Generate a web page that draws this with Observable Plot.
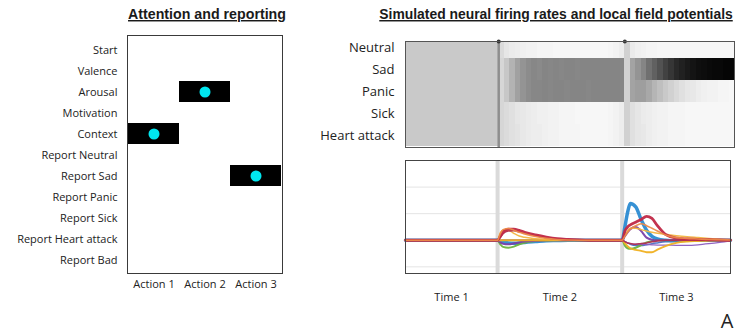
<!DOCTYPE html>
<html><head><meta charset="utf-8">
<script src="https://cdn.jsdelivr.net/npm/d3@7"></script>
<script src="https://cdn.jsdelivr.net/npm/@observablehq/plot@0.6"></script>
<style>
body{margin:0;background:#fff;}
#root{position:relative;width:740px;height:333px;overflow:hidden;background:#fff;}
#root > svg, #root > div{position:absolute;}
</style></head><body><div id="root"></div>
<script>
// ---------- Left panel: attention and reporting ----------
const actions = ["Action 1", "Action 2", "Action 3"];
const steps = ["Start", "Valence", "Arousal", "Motivation", "Context", "Report Neutral",
  "Report Sad", "Report Panic", "Report Sick", "Report Heart attack", "Report Bad"];
const attendedStep = ["Context", "Arousal", "Report Sad"]; // one per action

// ---------- Heatmap: simulated firing rates (0 = white, 1 = black), 60 time bins ----------
const emotions = ["Neutral", "Sad", "Panic", "Sick", "Heart attack"];
const rateNeutral = [0.21,0.21,0.21,0.21,0.21,0.21,0.21,0.21,0.21,0.21,0.21,0.21,0.21,0.21,0.21,0.21,0.21,
  0.14,0.10,0.08,0.07,0.06,0.05,0.05,0.04,0.04,0.04,0.03,0.03,0.03,0.03,0.03,0.03,0.03,0.03,0.03,0.03,0.04,0.05,0.07,
  0.18,
  0.08,0.06,0.05,0.04,0.04,0.03,0.03,0.03,0.03,0.03,0.03,0.03,0.03,0.03,0.03,0.03,0.03,0.03,0.03];
const rateSad = [0.21,0.21,0.21,0.21,0.21,0.21,0.21,0.21,0.21,0.21,0.21,0.21,0.21,0.21,0.21,0.21,0.21,
  0.16,0.22,0.30,0.37,0.42,0.45,0.47,0.46,0.48,0.47,0.48,0.47,0.48,0.48,0.47,0.48,0.48,0.48,0.48,0.48,0.48,0.48,0.48,
  0.18,
  0.36,0.42,0.48,0.56,0.62,0.68,0.74,0.79,0.84,0.87,0.90,0.92,0.94,0.95,0.96,0.97,0.97,0.98,0.98];
const ratePanic = [0.21,0.21,0.21,0.21,0.21,0.21,0.21,0.21,0.21,0.21,0.21,0.21,0.21,0.21,0.21,0.21,0.21,
  0.16,0.22,0.30,0.37,0.42,0.45,0.47,0.47,0.48,0.47,0.48,0.48,0.47,0.48,0.48,0.48,0.47,0.48,0.48,0.48,0.48,0.48,0.48,
  0.18,
  0.36,0.38,0.38,0.34,0.29,0.25,0.21,0.18,0.15,0.12,0.10,0.09,0.07,0.06,0.05,0.05,0.04,0.04,0.03];
const rateSick = [0.21,0.21,0.21,0.21,0.21,0.21,0.21,0.21,0.21,0.21,0.21,0.21,0.21,0.21,0.21,0.21,0.21,
  0.16,0.14,0.12,0.10,0.09,0.08,0.07,0.06,0.06,0.05,0.05,0.04,0.04,0.04,0.03,0.03,0.03,0.03,0.03,0.03,0.04,0.05,0.07,
  0.18,
  0.12,0.10,0.08,0.07,0.06,0.05,0.05,0.04,0.04,0.04,0.03,0.03,0.03,0.03,0.03,0.03,0.03,0.03,0.03];
const rateHeart = [0.21,0.21,0.21,0.21,0.21,0.21,0.21,0.21,0.21,0.21,0.21,0.21,0.21,0.21,0.21,0.21,0.21,
  0.16,0.14,0.12,0.11,0.09,0.08,0.07,0.07,0.06,0.05,0.05,0.04,0.04,0.04,0.04,0.03,0.03,0.03,0.03,0.03,0.04,0.05,0.07,
  0.18,
  0.12,0.10,0.09,0.07,0.06,0.05,0.05,0.04,0.04,0.04,0.03,0.03,0.03,0.03,0.03,0.03,0.03,0.03,0.03];
const rateRows = [rateNeutral, rateSad, ratePanic, rateSick, rateHeart];

// event onsets (time-bin units) and period labels
const events = [17, 40];
const periods = [
  {label: "Time 1", from: 0, to: 17},
  {label: "Time 2", from: 17, to: 40},
  {label: "Time 3", from: 40, to: 60}
];

// ---------- Local field potentials ----------
const lfpTime = [0, 17,17.5,18,19,20,21,22,24,26,28,30,34, 40,40.5,41,41.5,42.5,43.5,44.5,45.5,46.5,48,50,52,54,56,58,60];
const lfpBlueB   = [0, 0,0,0,0,0,0,0,0,0,0,0,0, 0,-0.05,-0.1,-0.15,-0.2,-0.2,-0.17,-0.13,-0.1,-0.06,-0.03,-0.01,0,0,0,0];
const lfpBlueA   = [0, 0,-0.05,-0.08,-0.1,-0.11,-0.1,-0.08,-0.05,-0.02,-0.01,0,0, 0,0.5,1.05,1.38,1.26,0.78,0.38,0.15,0.05,0,-0.02,0,0,0,0,0];
const lfpGreen   = [0, 0,-0.15,-0.25,-0.28,-0.24,-0.15,-0.09,-0.03,-0.01,0,0,0, 0,-0.2,-0.3,-0.32,-0.28,-0.18,-0.08,-0.03,0,0,0,0,0,0,0,0];
const lfpPurpleB = [0, 0,0,0,0,0,0,0,0,0,0,0,0, 0,-0.05,-0.1,-0.13,-0.15,-0.15,-0.16,-0.17,-0.18,-0.18,-0.19,-0.19,-0.17,-0.13,-0.08,-0.02];
const lfpPurpleA = [0, 0,-0.08,-0.13,-0.15,-0.12,-0.08,-0.05,-0.02,0,0,0,0, 0,0.15,0.3,0.42,0.5,0.35,0.1,0.02,0,0,0,0,0,0,0,0];
const lfpGoldB   = [0, 0,0,0,0,0,0,0,0,0,0,0,0, 0,-0.12,-0.22,-0.3,-0.36,-0.4,-0.45,-0.45,-0.35,-0.22,-0.1,-0.05,-0.03,-0.01,0,0];
const lfpGoldA   = [0, 0,0.28,0.38,0.38,0.26,0.16,0.11,0.06,0.03,0.01,0,0, 0,0.2,0.35,0.45,0.45,0.4,0.35,0.3,0.26,0.22,0.17,0.13,0.1,0.07,0.04,0.02];
const lfpRedB    = [0, 0,0.1,0.25,0.35,0.36,0.32,0.26,0.17,0.1,0.05,0.02,0, 0,-0.05,-0.1,-0.12,-0.15,-0.12,-0.1,-0.06,-0.03,0,0,0,0,0,0,0];
const lfpRedA    = [0, 0,0.15,0.3,0.42,0.42,0.37,0.3,0.2,0.12,0.06,0.03,0, 0,0.35,0.5,0.58,0.68,0.78,0.9,0.82,0.55,0.22,0.08,0.05,0.03,0.02,0.01,0];
const lfpOrange  = [0, 0,0.25,0.4,0.44,0.38,0.3,0.24,0.14,0.07,0.03,0.01,0, 0,0.15,0.3,0.42,0.55,0.62,0.55,0.45,0.35,0.2,0.1,0.07,0.05,0.03,0.02,0.01];
const lfpSeries = [
  {values: lfpBlueB, color: "#4a6fc4", width: 1.5},
  {values: lfpBlueA, color: "#2b8bd2", width: 3.5},
  {values: lfpGreen, color: "#6db33f", width: 2},
  {values: lfpPurpleB, color: "#8a5cc0", width: 1.3},
  {values: lfpPurpleA, color: "#7a3fa8", width: 2},
  {values: lfpGoldB, color: "#f0b020", width: 1.8},
  {values: lfpGoldA, color: "#f2b541", width: 1.5},
  {values: lfpRedB, color: "#b03050", width: 1.5},
  {values: lfpRedA, color: "#c02846", width: 2.8},
  {values: lfpOrange, color: "#ec8a4a", width: 1.6}
];
const gridLevels = [-1, 1, 2];

// ---------- build ----------
const root = document.getElementById("root");
const FONT = "'Open Sans', 'DejaVu Sans', sans-serif";

// Left chart
const attention = actions.map((a, i) => ({action: a, step: attendedStep[i]}));
const left = Plot.plot({
  width: 300, height: 300,
  marginLeft: 127, marginRight: 18, marginTop: 35, marginBottom: 27,
  style: {fontFamily: FONT, fontSize: "11px", color: "#222", background: "transparent"},
  x: {domain: actions, padding: 0, tickSize: 0, tickPadding: 7, label: null},
  y: {domain: steps, padding: 0, tickSize: 0, tickPadding: 10, label: null},
  marks: [
    Plot.cell(attention, {x: "action", y: "step", fill: "#000", inset: 0}),
    Plot.dot(attention, {x: "action", y: "step", r: 5.5, fill: "#00e6ef"}),
    Plot.frame({stroke: "#3a3a3a"})
  ]
});
left.style.left = "0px"; left.style.top = "0px";
root.appendChild(left);

// Heatmap
const heat = emotions.flatMap((e, i) => rateRows[i].map((v, b) => ({emotion: e, bin: b, v})));
const heatmap = Plot.plot({
  width: 440, height: 125,
  marginLeft: 105, marginRight: 6, marginTop: 11, marginBottom: 8,
  style: {fontFamily: FONT, fontSize: "13px", color: "#222", background: "transparent"},
  x: {domain: [0, 60], axis: null},
  y: {domain: emotions, range: [5, 117], padding: 0, tickSize: 0, tickPadding: 11, label: null},
  color: {type: "linear", domain: [0, 1], range: ["#ffffff", "#000000"]},
  marks: [
    Plot.barX(heat, {x1: "bin", x2: d => d.bin + 1, y: "emotion", fill: "v", clip: true, shapeRendering: "crispEdges"}),
    Plot.ruleX(events.slice(0, 1), {stroke: "#8e8e8e", strokeWidth: 2.5}),
    Plot.dot(events, {x: d => d, frameAnchor: "top", r: 2, fill: "#333"}),
    Plot.frame({stroke: "#555"})
  ]
});
heatmap.style.left = "300px"; heatmap.style.top = "30px";
root.appendChild(heatmap);

// LFP
const mids = new Map(periods.map(p => [(p.from + p.to) / 2, p.label]));
const lfpMarks = [
  Plot.ruleY(gridLevels, {stroke: "#e4e4e4"}),
  Plot.ruleX(events, {stroke: "#dadada", strokeWidth: 4})
];
for (const s of lfpSeries) {
  const pts = lfpTime.map((t, i) => ({t, v: s.values[i]}));
  lfpMarks.push(Plot.line(pts, {x: "t", y: "v", stroke: s.color, strokeWidth: s.width, curve: "monotone-x", strokeOpacity: 0.95}));
}
lfpMarks.push(Plot.frame({stroke: "#444"}));
const lfp = Plot.plot({
  width: 440, height: 160,
  marginLeft: 105, marginRight: 10, marginTop: 10, marginBottom: 37,
  style: {fontFamily: FONT, fontSize: "11px", color: "#222", background: "transparent"},
  x: {domain: [0, 60], ticks: [...mids.keys()], tickFormat: d => mids.get(d), tickSize: 0, tickPadding: 20, label: null},
  y: {domain: [-1.25, 3], axis: null},
  marks: lfpMarks
});
lfp.style.left = "300px"; lfp.style.top = "150px";
root.appendChild(lfp);

// Titles and panel letter (condensed bold titles, scaled horizontally to the reference width)
const overlay = d3.select(root).append("svg")
  .attr("width", 740).attr("height", 333)
  .style("left", "0px").style("top", "0px").style("pointer-events", "none");
const titles = [
  {text: "Attention and reporting", cx: 207, len: 158},
  {text: "Simulated neural firing rates and local field potentials", cx: 556, len: 354}
];
const tsel = overlay.selectAll("text.title").data(titles).join("text")
  .attr("class", "title")
  .attr("x", 0).attr("y", 0)
  .attr("text-anchor", "middle")
  .style("font-family", "'Liberation Sans Narrow', 'Liberation Sans', Arial, sans-serif")
  .style("font-weight", "bold").style("font-size", "14.5px")
  .style("text-decoration", "underline").style("fill", "#1a1a1a")
  .text(d => d.text);
tsel.each(function(d) {
  const natural = this.getComputedTextLength() || d.len;
  const k = d.len / natural;
  d3.select(this).attr("transform", `translate(${d.cx},19) scale(${k},1)`);
});
overlay.append("text")
  .attr("x", 727).attr("y", 328).attr("text-anchor", "middle")
  .style("font-family", FONT).style("font-size", "20px").style("fill", "#222")
  .text("A");
</script>
</body></html>
